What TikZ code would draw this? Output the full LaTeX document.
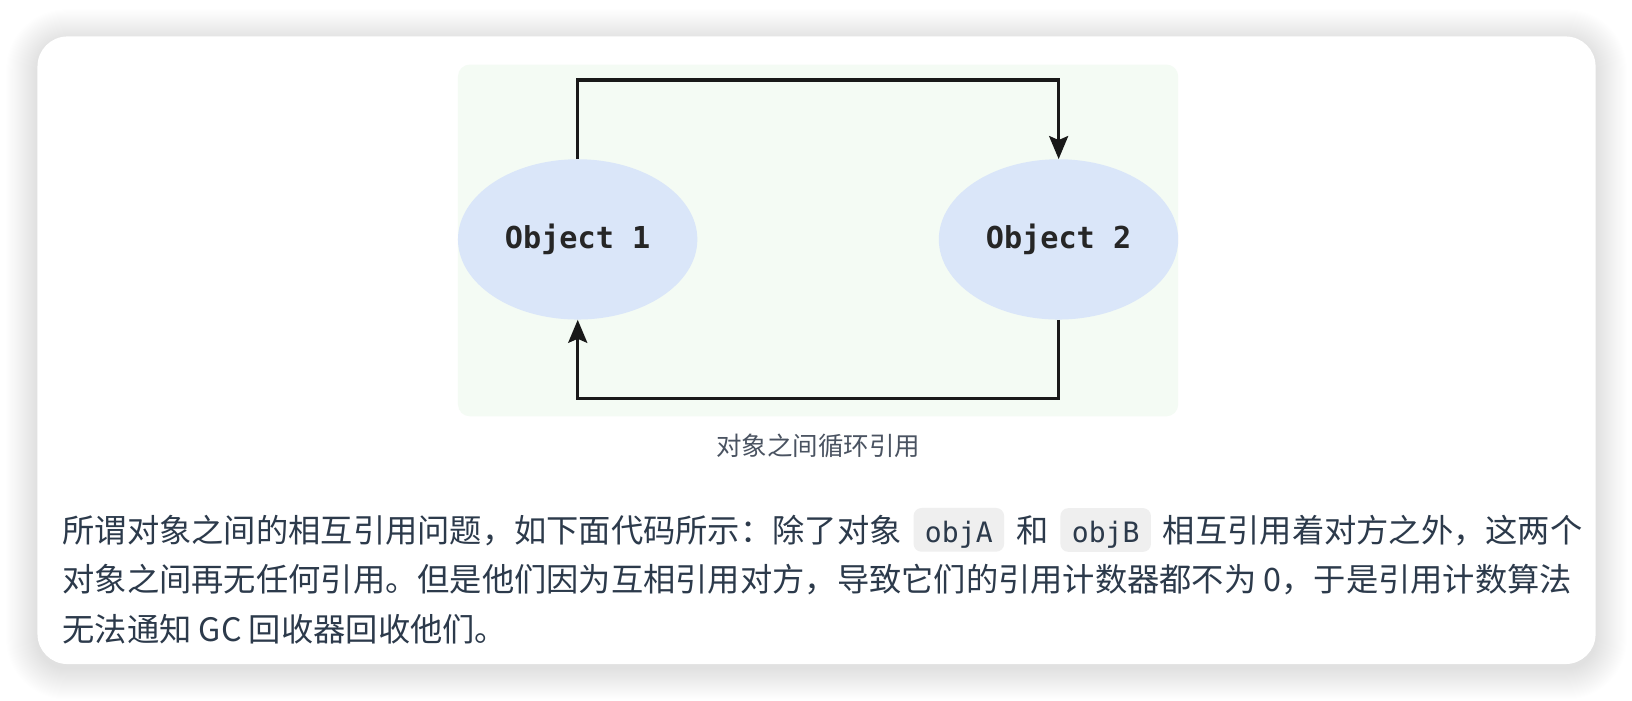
\documentclass[tikz,border=0pt]{standalone}
\usepackage{fontspec}
\setmainfont{Noto Sans CJK SC}
\newfontfamily\monofont{DejaVu Sans Mono}
\newfontfamily\monobold{DejaVu Sans Mono Bold}
\usetikzlibrary{arrows.meta,shapes.geometric}
\definecolor{txt}{HTML}{2C3A4B}
\definecolor{captxt}{HTML}{4A5361}
\definecolor{diagbg}{HTML}{F4FBF4}
\definecolor{ellfill}{HTML}{DAE6F9}
\definecolor{chipbg}{HTML}{EFEFEF}
\tikzset{
  every node/.style={transform shape},
  obj/.style={ellipse,fill=ellfill,draw=none,minimum width=230pt,minimum height=154pt,inner sep=0pt,
    font=\monobold\fontsize{29}{34}\selectfont,text=black!85},
  link/.style={line width=3.1pt,black!90,-{Stealth[length=23pt,width=19pt,inset=4pt]}},
  bodytext/.style={anchor=base west,inner sep=0pt,text=txt,font=\fontsize{31}{37}\selectfont},
  chip/.style={anchor=base west,fill=chipbg,rounded corners=8pt,inner xsep=11pt,inner ysep=8pt,
    text height=25pt,text depth=1pt,text=txt,font=\monofont\fontsize{27}{31}\selectfont},
  captext/.style={anchor=base,inner sep=0pt,text=captxt,font=\fontsize{24.5}{29}\selectfont}
}
\begin{document}
\begin{tikzpicture}[x=1pt,y=-1pt,scale=1.0408]
\useasboundingbox (0,0) rectangle (1568,672.6);
\fill[white] (0,0) rectangle (1568,672.6);
% shadow
\foreach \i in {1,...,30}{
  \pgfmathsetmacro\rr{30+\i}
  \fill[black,opacity=0.0032,rounded corners=\rr pt] (36-\i,35-\i+4) rectangle (1533+\i,638+\i+4);
}
% card
\fill[white,rounded corners=30pt] (36,35) rectangle (1533,638);
% diagram background
\fill[diagbg,rounded corners=12pt] (440,62) rectangle (1132,400);
% objects
\node[obj] (o1) at (555,230) {Object 1};
\node[obj] (o2) at (1017,230) {Object 2};
\draw[link] (o1.north) -- ++(0,-76) -| (o2.north);
\draw[link] (o2.south) -- ++(0,76) -| (o1.south);
% caption
\node[captext] (cap) at (786,438) {对象之间循环引用};
% body line 1
\node[bodytext] (l1a) at (60,521) {所谓对象之间的相互引用问题，如下面代码所示：除了对象};
\node[chip] (c1) at ([xshift=11pt]l1a.base east) {objA};
\node[bodytext] (l1b) at ([xshift=11pt]c1.base east) {和};
\node[chip] (c2) at ([xshift=11pt]l1b.base east) {objB};
\node[bodytext] (l1c) at ([xshift=11pt]c2.base east) {相互引用着对方之外，这两个};
% body line 2
\node[bodytext] (l2) at (60,568) {对象之间再无任何引用。但是他们因为互相引用对方，导致它们的引用计数器都不为 0，于是引用计数算法};
% body line 3
\node[bodytext] (l3) at (60,616) {无法通知 GC 回收器回收他们。};
\end{tikzpicture}
\end{document}
